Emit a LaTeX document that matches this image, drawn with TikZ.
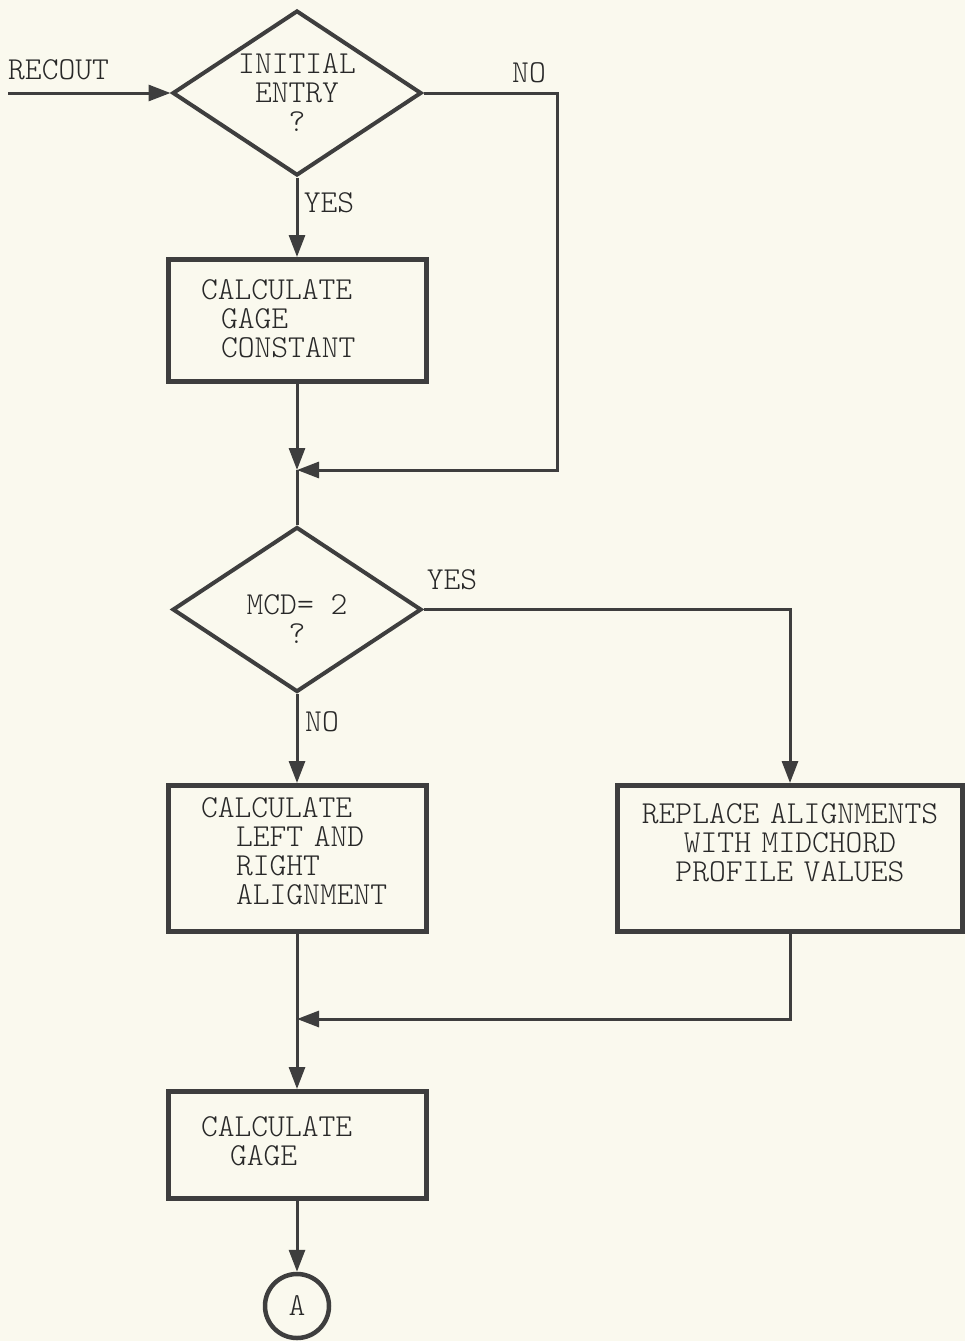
\documentclass[tikz,border=0pt]{standalone}
\usepackage{fontspec}
\usetikzlibrary{arrows.meta,shapes.geometric}
\newfontfamily\typewriter{lmmonolt10-regular.otf}
\definecolor{paper}{RGB}{250,249,238}
\definecolor{ink}{RGB}{62,62,62}
\definecolor{typeink}{RGB}{40,40,40}

\begin{document}
\begin{tikzpicture}[x=1pt,y=-1pt,
  every node/.style={font=\typewriter\fontsize{32}{29}\selectfont, text=typeink},
  box/.style={draw=ink, line width=5pt, rectangle, minimum width=258pt,
    inner xsep=33pt, inner ysep=0pt, text width=192pt, align=left},
  decision/.style={draw=ink, line width=4pt, diamond, shape aspect=1.5,
    inner sep=0pt, minimum width=249pt, minimum height=165pt, align=center},
  conn/.style={draw=ink, line width=3pt},
  arr/.style={conn, -{Triangle[length=22pt,width=16pt]}},
  tag/.style={inner sep=0pt},
]
% paper and page frame
\fill[paper] (0,0) rectangle (965,1341);
\useasboundingbox (0,0) rectangle (965,1341);

% decisions, process boxes and the off-page connector
\node[decision] (d1) at (297,93) {INITIAL\\ENTRY\\?};
\node[box, minimum height=122pt, text depth=61pt] (b1) at (297,320.5)
  {CALCULATE\\\hspace*{20pt}GAGE\\\hspace*{20pt}CONSTANT};
\node[decision, text height=68pt, text depth=0pt] (d2) at (297,609.5) {MCD= 2\\?};
\node[box, minimum height=146pt, text depth=101pt] (b2) at (297,858.5)
  {CALCULATE\\\hspace*{35pt}LEFT AND\\\hspace*{35pt}RIGHT\\\hspace*{35pt}ALIGNMENT};
\node[box, minimum width=345pt, text width=320pt, inner xsep=12.5pt,
  align=center, minimum height=146pt, text depth=89pt] (b3) at (790,858.5)
  {REPLACE ALIGNMENTS\\WITH MIDCHORD\\PROFILE VALUES};
\node[box, minimum height=107pt, text depth=37pt] (b4) at (297,1145)
  {CALCULATE\\\hspace*{29pt}GAGE};
\node[circle, draw=ink, line width=4.5pt, minimum size=64pt, inner sep=0pt]
  (a) at (297,1306) {A};

% branch labels
\node[tag, anchor=west] (lrec) at (8,70) {RECOUT};
\node[tag] (lno1) at (529,73) {NO};
\node[tag] (lyes1) at (329,203) {YES};
\node[tag] (lyes2) at (452,580) {YES};
\node[tag] (lno2) at (322,722) {NO};

% junctions and the free entry end
\coordinate (src) at ([xshift=-162.5pt]d1.west);
\coordinate (j1) at (297,470);
\coordinate (nocorner) at (557,470);
\coordinate (j2) at (297,1019);

% flow lines
\draw[arr] (src) -- (d1.west);
\draw[arr] (d1.east) -| (nocorner) -- (j1);
\draw[arr] (d1.south) -- (b1.north);
\draw[arr] (b1.south) -- (j1);
\draw[conn] (j1) -- (d2.north);
\draw[arr] (d2.east) -| (b3.north);
\draw[arr] (d2.south) -- (b2.north);
\draw[arr] (b2.south) -- (b4.north);
\draw[arr] (b3.south) |- (j2);
\draw[arr] (b4.south) -- (a.north);
\end{tikzpicture}
\end{document}
